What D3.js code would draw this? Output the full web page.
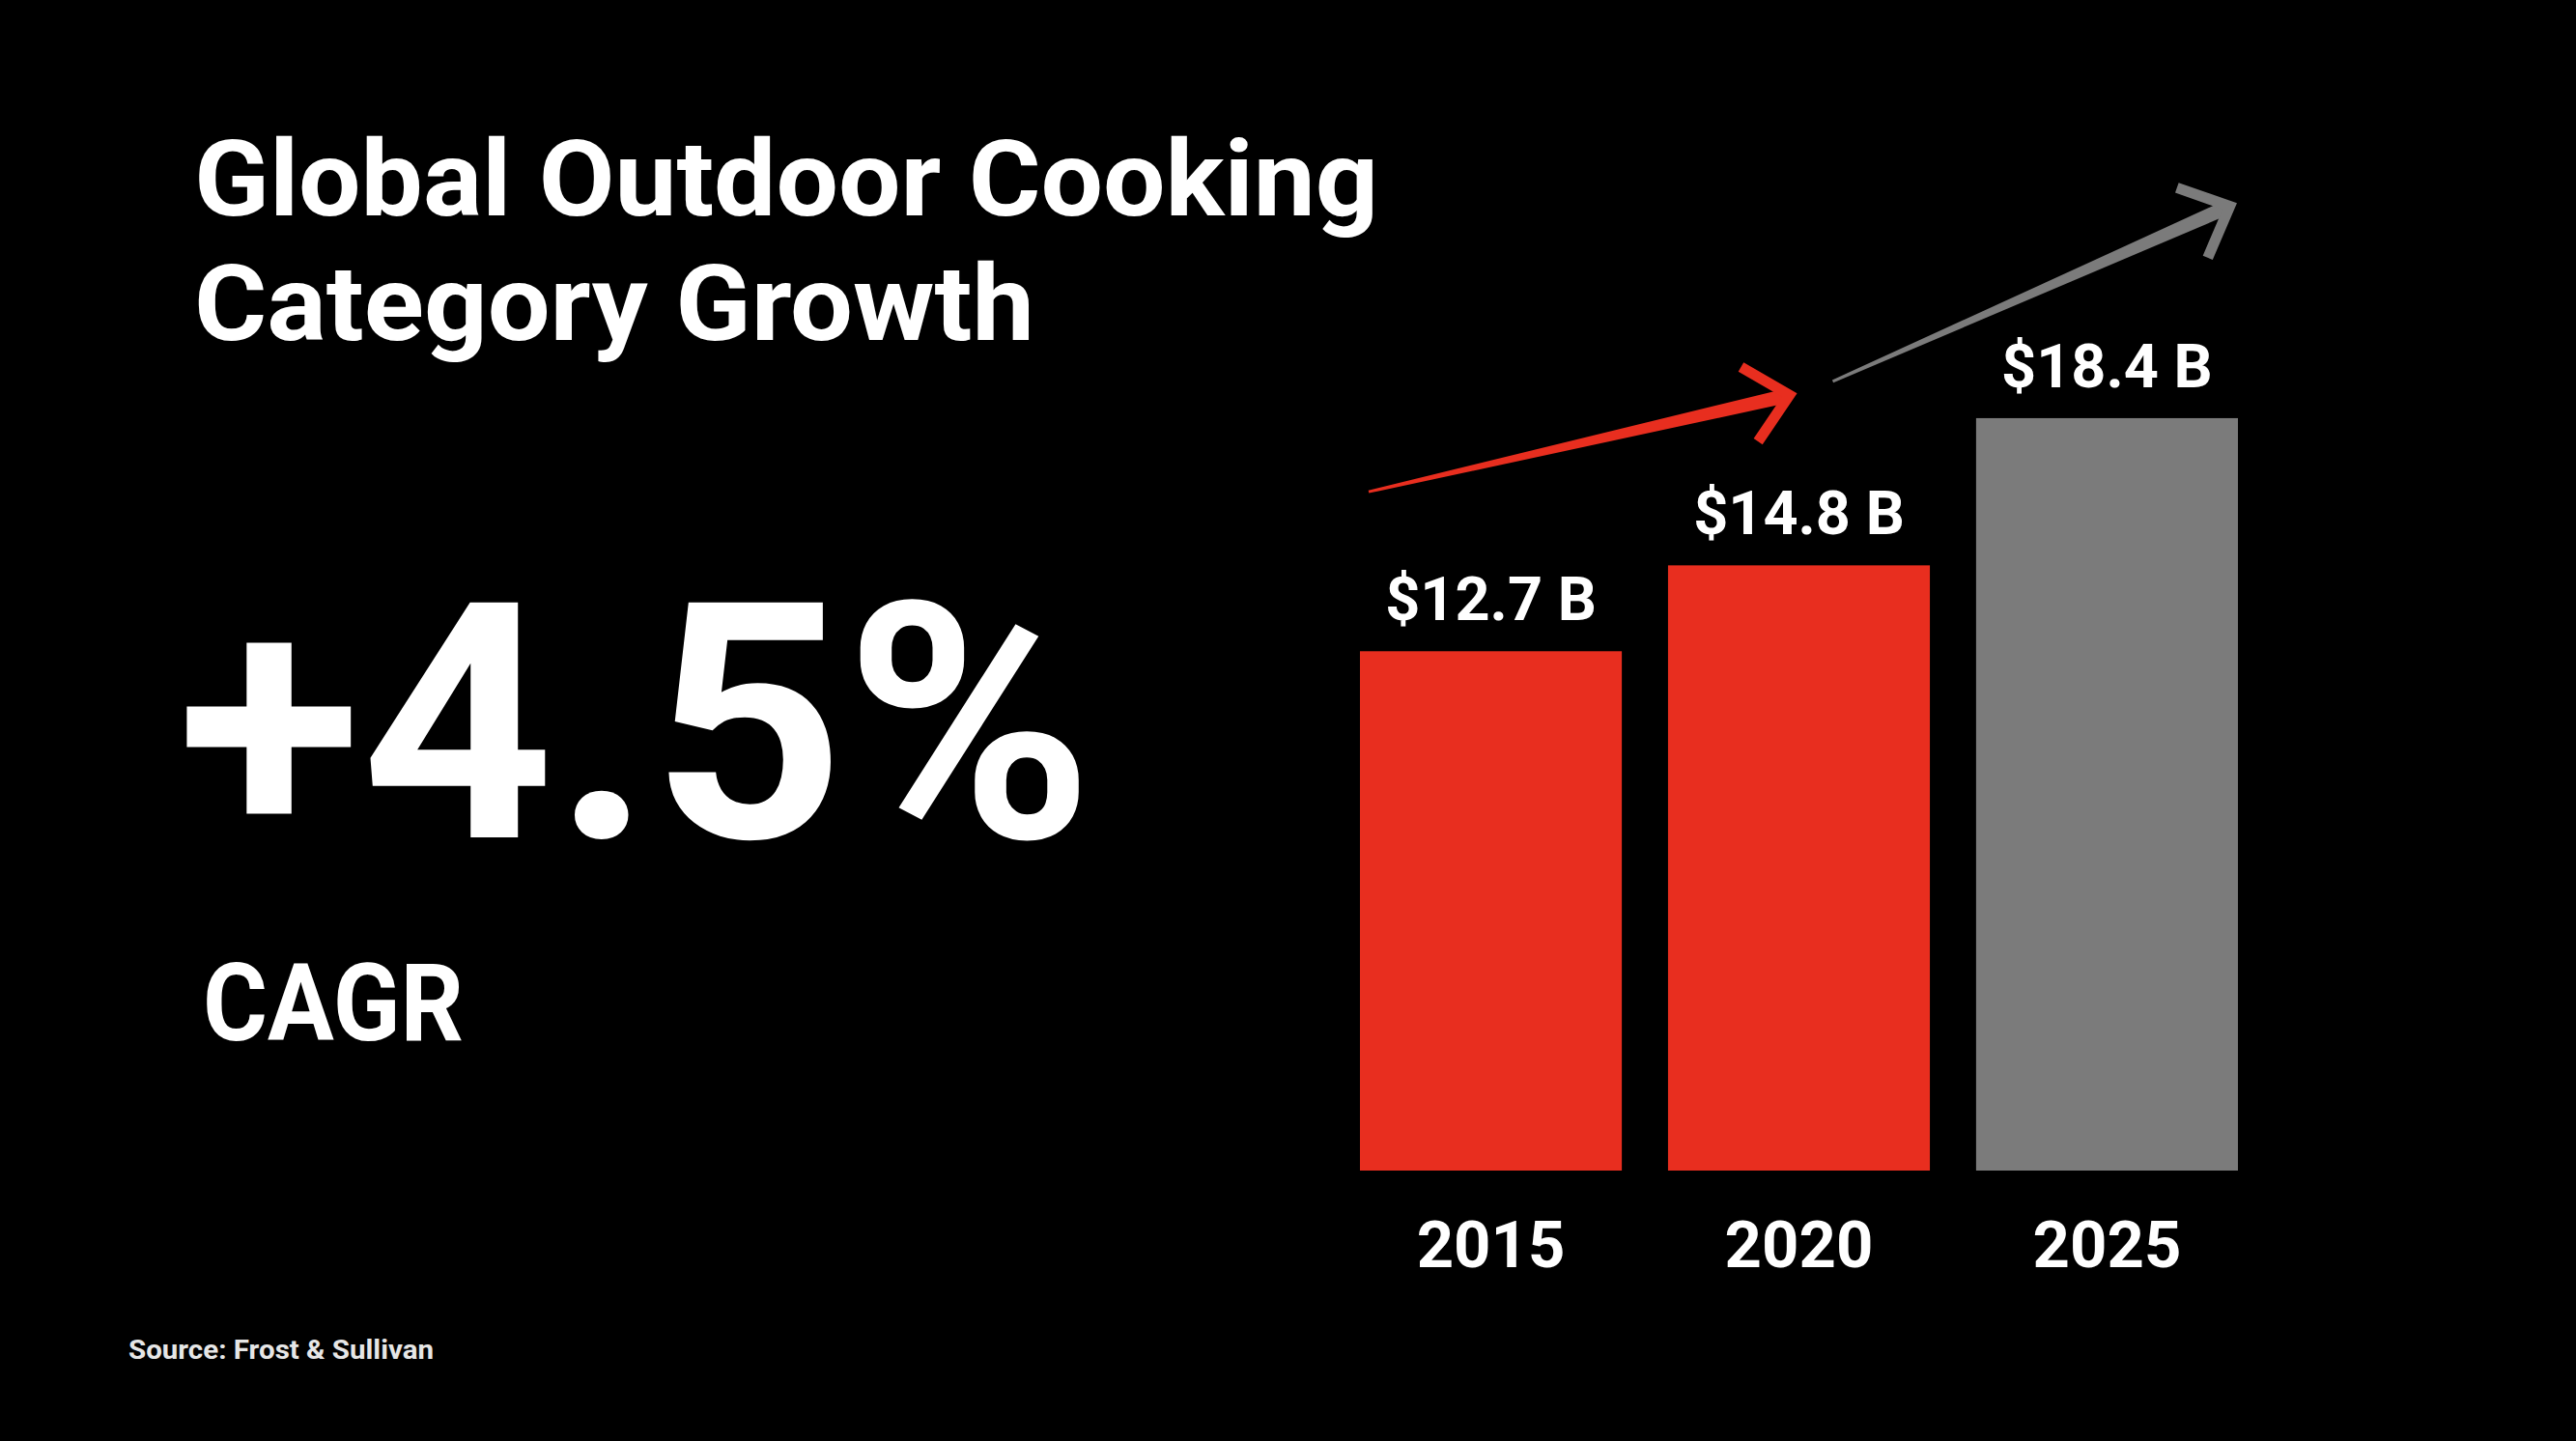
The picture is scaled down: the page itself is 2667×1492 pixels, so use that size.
<!DOCTYPE html>
<html>
<head>
<meta charset="utf-8">
<script src="https://cdn.jsdelivr.net/npm/d3@7"></script>
<style>
  html, body { margin: 0; padding: 0; background: #000; }
  svg { display: block; }
  text { font-family: Roboto, "Liberation Sans", "DejaVu Sans", sans-serif; font-weight: 700; fill: #fff; }
</style>
</head>
<body>
<script>
// ---- data ----
const years = ["2015", "2020", "2025"];
const values = [12.7, 14.8, 18.4];
const valueLabels = ["$12.7 B", "$14.8 B", "$18.4 B"];
const barColors = ["#e82e1f", "#e82e1f", "#7b7b7b"];
const titleLines = ["Global Outdoor Cooking", "Category Growth"];
const cagrValue = "+4.5%";
const cagrLabel = "CAGR";
const sourceNote = "Source: Frost & Sullivan";

// ---- layout ----
const W = 2667, H = 1492;
const svg = d3.select("body").append("svg").attr("width", W).attr("height", H);
svg.append("rect").attr("width", W).attr("height", H).attr("fill", "#000");

const x = d3.scaleBand().domain(years).range([1408, 2317]).paddingInner(0.15).paddingOuter(0);
const y = d3.scaleLinear().domain([0, 20]).range([1212, 1212 - 20 * 42.34]);
const bw = x.bandwidth();

function fit(sel, width) {
  sel.attr("textLength", width).attr("lengthAdjust", "spacingAndGlyphs");
}

// Title
const t1 = svg.append("text").attr("x", 201).attr("y", 223).attr("font-size", 110).text(titleLines[0]);
const nat1 = t1.node().getComputedTextLength();
const factor = 1226 / nat1;
fit(t1, 1226);
const t2 = svg.append("text").attr("x", 201).attr("y", 352).attr("font-size", 110).text(titleLines[1]);
fit(t2, t2.node().getComputedTextLength() * factor + 6);

// Big number
const big = svg.append("text").attr("x", 184).attr("y", 867).attr("font-size", 342).text(cagrValue);
fit(big, 948);
const cg = svg.append("text").attr("x", 210).attr("y", 1077).attr("font-size", 111).text(cagrLabel);
fit(cg, 270);

// Source
const src = svg.append("text").attr("x", 133).attr("y", 1407).attr("font-size", 28)
  .style("fill", "#e6e6e6").text(sourceNote);
fit(src, 316);

// Bars
const data = years.map((yr, i) => ({ yr, v: values[i], lab: valueLabels[i], c: barColors[i] }));
svg.selectAll("rect.bar").data(data).join("rect")
  .attr("class", "bar")
  .attr("x", d => x(d.yr)).attr("width", bw)
  .attr("y", d => y(d.v)).attr("height", d => y(0) - y(d.v))
  .attr("fill", d => d.c);

svg.selectAll("text.val").data(data).join("text")
  .attr("class", "val")
  .attr("x", d => x(d.yr) + bw / 2).attr("y", d => y(d.v) - 32)
  .attr("text-anchor", "middle").attr("font-size", 63)
  .text(d => d.lab);

svg.selectAll("text.yr").data(data).join("text")
  .attr("class", "yr")
  .attr("x", d => x(d.yr) + bw / 2).attr("y", 1312)
  .attr("text-anchor", "middle").attr("font-size", 67)
  .text(d => d.yr);

// Growth arrows (annotations placed relative to the scales)
const arrows = [
  { tail: [x("2015") + 9, y(16.6)], tip: [x("2020") + bw / 2 - 3, y(19.0)], color: "#e82e1f" },
  { tail: [x("2020") + bw / 2 + 35, y(19.3)], tip: [x("2025") + bw - 2, y(23.65)], color: "#7b7b7b" }
];
arrows.forEach(a => {
  const [x0, y0] = a.tail, [x1, y1] = a.tip;
  const dx = x1 - x0, dy = y1 - y0, L = Math.hypot(dx, dy);
  const ux = dx / L, uy = dy / L, nx = -uy, ny = ux;
  const hw0 = 1.5, hw1 = 7.5;
  const sx = x1 - ux * 10, sy = y1 - uy * 10;
  svg.append("path")
    .attr("d", `M${x0 + nx * hw0},${y0 + ny * hw0} L${sx + nx * hw1},${sy + ny * hw1} L${sx - nx * hw1},${sy - ny * hw1} L${x0 - nx * hw0},${y0 - ny * hw0} Z`)
    .attr("fill", a.color);
  const back = Math.atan2(-uy, -ux);
  const ang = 43 * Math.PI / 180, len = 58;
  const tx = x1 - ux * 7, ty = y1 - uy * 7;
  const p1 = [tx + len * Math.cos(back + ang), ty + len * Math.sin(back + ang)];
  const p2 = [tx + len * Math.cos(back - ang), ty + len * Math.sin(back - ang)];
  svg.append("path")
    .attr("d", `M${p1[0]},${p1[1]} L${tx},${ty} L${p2[0]},${p2[1]}`)
    .attr("fill", "none").attr("stroke", a.color).attr("stroke-width", 11)
    .attr("stroke-linejoin", "miter").attr("stroke-linecap", "butt");
});
</script>
</body>
</html>
